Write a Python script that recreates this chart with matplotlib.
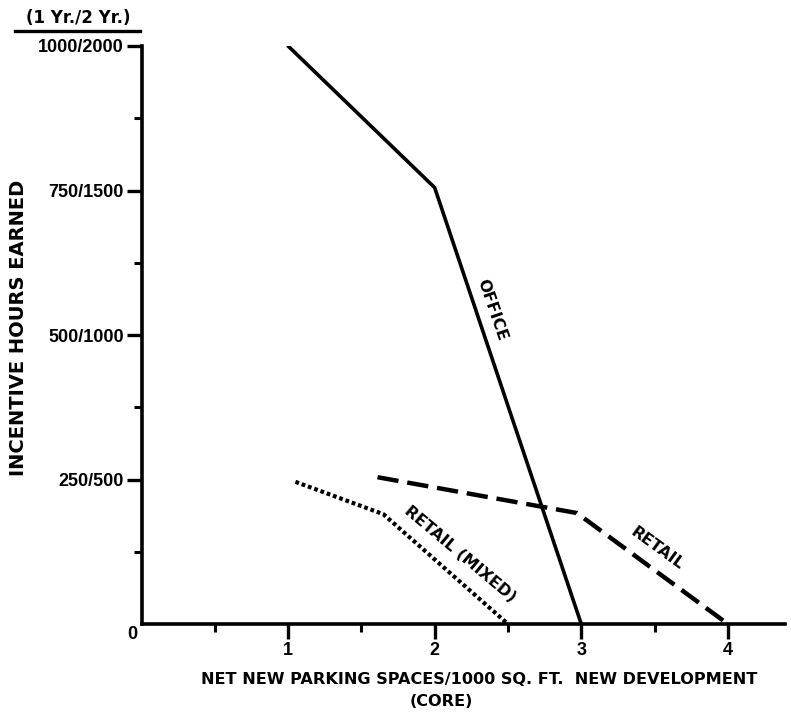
import matplotlib.pyplot as plt
from matplotlib.transforms import ScaledTranslation

plt.rcParams['font.family'] = ['Liberation Sans', 'DejaVu Sans']
plt.rcParams['font.weight'] = 'bold'
WIDE = ['DejaVu Sans']

# data (x = spaces/1000 sq ft, y = 1-yr incentive hours)
office_x = [1.0, 2.0, 3.0]
office_y = [1000, 755, 0]

retail_x = [1.61, 2.97, 4.0]
retail_y = [254, 192, 0]

mixed_x = [1.05, 1.65, 2.5]
mixed_y = [246, 190, 0]

yticks = [0, 250, 500, 750, 1000]
ylabels = ['0', '250/500', '500/1000', '750/1500', '1000/2000']
xticks = [1, 2, 3, 4]

fig = plt.figure(figsize=(7.91, 7.15), dpi=100)
ax = fig.add_axes([141.5/791, 91/715, 643.5/791, 578/715])

ax.plot(office_x, office_y, color='black', lw=2.6, solid_capstyle='round')
ax.plot(retail_x, retail_y, color='black', lw=3.2, dashes=(4.8, 2.0))
ax.plot(mixed_x, mixed_y, color='black', lw=3.0, dashes=(0.9, 0.7))

ax.set_xlim(0, 4.39)
ax.set_ylim(0, 1000)

ax.spines['top'].set_visible(False)
ax.spines['right'].set_visible(False)
ax.spines['left'].set_linewidth(2.6)
ax.spines['bottom'].set_linewidth(2.6)

ax.set_xticks(xticks)
ax.set_xticklabels([str(t) for t in xticks])
ax.set_xticks([0.5, 1.5, 2.5, 3.5], minor=True)
ax.set_yticks(yticks)
ax.set_yticklabels(ylabels)
ax.set_yticks([125, 375, 625, 875], minor=True)
ax.tick_params(axis='both', which='major', length=10.8, width=2.4, labelsize=13, pad=2)
ax.tick_params(axis='both', which='minor', length=6, width=2.2)
ax.tick_params(axis='x', which='major', pad=2)
t0 = ax.yaxis.get_major_ticks()[0]
t0.tick1line.set_visible(False)
t0.label1.set_transform(t0.label1.get_transform() +
                        ScaledTranslation(9.5/72, -6/72, fig.dpi_scale_trans))

fig.text(479/791, 1 - 680/715, 'NET NEW PARKING SPACES/1000 SQ. FT.  NEW DEVELOPMENT',
         ha='center', va='center', fontsize=11.6, fontweight='bold', family=WIDE)
fig.text(441/791, 1 - 701/715, '(CORE)',
         ha='center', va='center', fontsize=11.6, fontweight='bold', family=WIDE)

fig.text(19/791, 1 - 328/715, 'INCENTIVE HOURS EARNED', rotation=90,
         ha='center', va='center', fontsize=14, fontweight='bold', family=WIDE)

fig.text(78/791, 1 - 18/715, '(1 Yr./2 Yr.)', ha='center', va='center',
         fontsize=12, fontweight='bold', family=WIDE)
fig.add_artist(plt.Line2D([15/791, 140/791], [1 - 31/715, 1 - 31/715],
                          color='black', lw=2.4))

ax.text(2.39, 543, 'OFFICE', rotation=-71, ha='center', va='center',
        fontsize=11.5, fontweight='bold', family=WIDE)
ax.text(2.17, 120, 'RETAIL (MIXED)', rotation=-40, ha='center', va='center',
        fontsize=11.5, fontweight='bold', family=WIDE)
ax.text(3.52, 130, 'RETAIL', rotation=-36, ha='center', va='center',
        fontsize=11.5, fontweight='bold', family=WIDE)

fig.savefig('out.png', dpi=100)
